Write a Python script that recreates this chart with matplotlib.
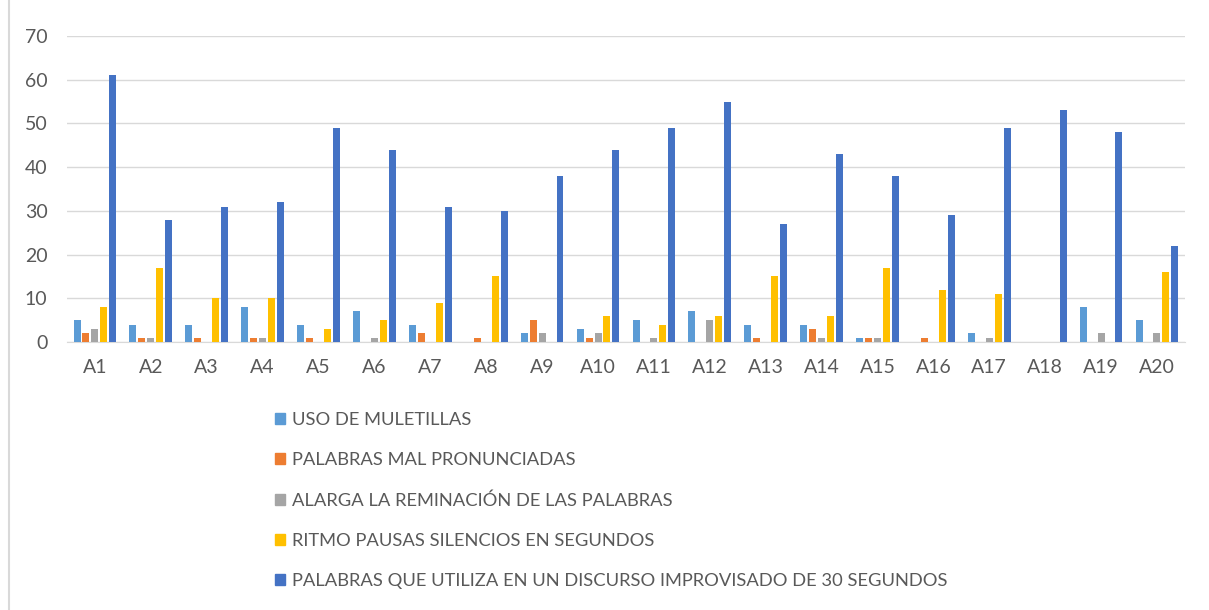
import numpy as np
import matplotlib.pyplot as plt
import matplotlib.patches as mpatches

categories = ['A%d' % i for i in range(1, 21)]
series_names = ['USO DE MULETILLAS',
                'PALABRAS MAL PRONUNCIADAS',
                'ALARGA LA REMINACIÓN DE LAS PALABRAS',
                'RITMO PAUSAS SILENCIOS EN SEGUNDOS',
                'PALABRAS QUE UTILIZA EN UN DISCURSO IMPROVISADO DE 30 SEGUNDOS']
muletillas = [5, 4, 4, 8, 4, 7, 4, 0, 2, 3, 5, 7, 4, 4, 1, 0, 2, 0, 8, 5]
mal_pronunciadas = [2, 1, 1, 1, 1, 0, 2, 1, 5, 1, 0, 0, 1, 3, 1, 1, 0, 0, 0, 0]
alarga = [3, 1, 0, 1, 0, 1, 0, 0, 2, 2, 1, 5, 0, 1, 1, 0, 1, 0, 2, 2]
ritmo = [8, 17, 10, 10, 3, 5, 9, 15, 0, 6, 4, 6, 15, 6, 17, 12, 11, 0, 0, 16]
palabras = [61, 28, 31, 32, 49, 44, 31, 30, 38, 44, 49, 55, 27, 43, 38, 29, 49, 53, 48, 22]
colors = ['#5B9BD5', '#ED7D31', '#A5A5A5', '#FFC000', '#4472C4']

plt.rcParams['font.family'] = ['Lato', 'DejaVu Sans']
text_color = '#595959'

fig = plt.figure(figsize=(12.09, 6.10), dpi=100)
ax = fig.add_axes([0.0554, 0.4393, 0.9247, 0.5016])

x = np.arange(len(categories))
width = 0.125
step = 0.16
all_series = [muletillas, mal_pronunciadas, alarga, ritmo, palabras]
for i, (vals, c, name) in enumerate(zip(all_series, colors, series_names)):
    ax.bar(x + (i - 2) * step, vals, width, color=c, label=name, zorder=3)

ax.set_xlim(-0.5, len(categories) - 0.5)
ax.set_ylim(0, 70)
ax.set_yticks(range(0, 71, 10))
ax.set_xticks(x)
ax.set_xticklabels(categories)
ax.grid(axis='y', color='#D9D9D9', linewidth=1, zorder=0)
for s in ['top', 'right', 'left']:
    ax.spines[s].set_visible(False)
ax.spines['bottom'].set_color('#D9D9D9')
ax.tick_params(axis='both', length=0, colors=text_color, labelsize=14)
ax.tick_params(axis='x', pad=12)
ax.tick_params(axis='y', pad=14)

handles = [mpatches.Patch(color=c) for c in colors]
fig.legend(handles, series_names, loc='upper left', bbox_to_anchor=(0.221, 0.337),
           frameon=False, fontsize=13.2, labelcolor=text_color,
           handlelength=0.55, handleheight=0.55, handletextpad=0.4,
           labelspacing=1.32, borderaxespad=0)

# chart border on the left
fig.add_artist(plt.Line2D([0.0075, 0.0075], [0.0, 1.0], color='#D9D9D9', linewidth=1.5))

fig.savefig('out.png', dpi=100)
